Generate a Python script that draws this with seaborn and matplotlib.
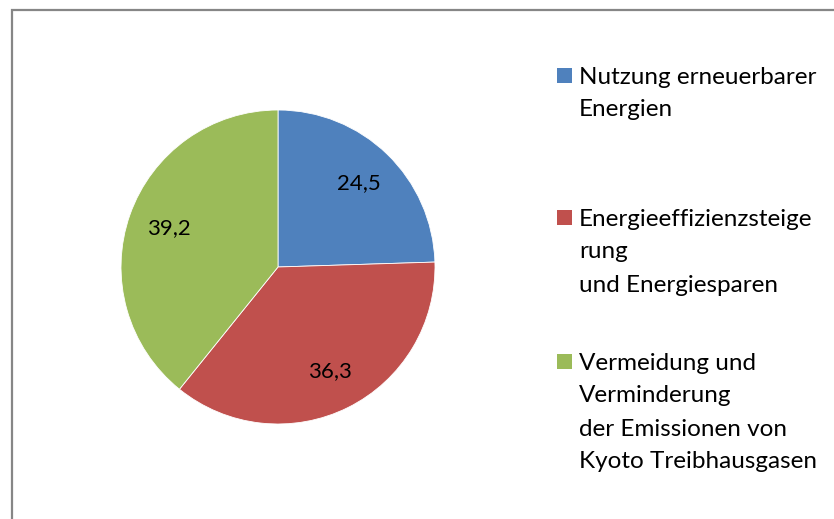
import matplotlib
matplotlib.use("Agg")
import matplotlib.pyplot as plt
import seaborn as sns
from matplotlib.patches import Rectangle

# data
categories = [
    "Nutzung erneuerbarer\nEnergien",
    "Energieeffizienzsteige\nrung\nund Energiesparen",
    "Vermeidung und\nVerminderung\nder Emissionen von\nKyoto Treibhausgasen",
]
values = [24.5, 36.3, 39.2]
colors = ["#4F81BD", "#C0504D", "#9BBB59"]

sns.set_theme(style="white")
plt.rcParams["font.family"] = ["Lato", "DejaVu Sans"]

W, H = 834, 519
fig = plt.figure(figsize=(W / 100, H / 100), dpi=100)
fig.patch.set_facecolor("white")

# outer frame (right/bottom edges cut off in the original)
fig.patches.append(Rectangle((11.5 / W, -0.1), 1.2, (H - 9.5) / H + 0.1,
                             transform=fig.transFigure, fill=False,
                             edgecolor="#868686", linewidth=1.6))

# pie
cx, cy, r = 278, 267, 157
ax = fig.add_axes([(cx - r) / W, (H - cy - r) / H, 2 * r / W, 2 * r / H])
ax.pie(values, colors=colors, startangle=90, counterclock=False,
       autopct=lambda p: f"{p:.1f}".replace(".", ","), pctdistance=0.74,
       wedgeprops=dict(edgecolor="white", linewidth=0.6),
       textprops=dict(fontsize=16, color="black"))
ax.set_xlim(-1, 1)
ax.set_ylim(-1, 1)
ax.set_aspect("equal")
ax.axis("off")

# legend drawn by hand: square aligned with first text line
tops = [64, 206, 350]
line_h = 33
for lab, col, top in zip(categories, colors, tops):
    fig.patches.append(Rectangle((557 / W, 1 - (top + 19) / H), 15 / W, 15 / H,
                                 transform=fig.transFigure, facecolor=col,
                                 edgecolor="none"))
    for i, line in enumerate(lab.split("\n")):
        fig.text(579 / W, 1 - (top + 13 + i * line_h) / H, line,
                 fontsize=17.5, va="center", ha="left", color="black")

fig.savefig("out.png", dpi=100, facecolor="white")
